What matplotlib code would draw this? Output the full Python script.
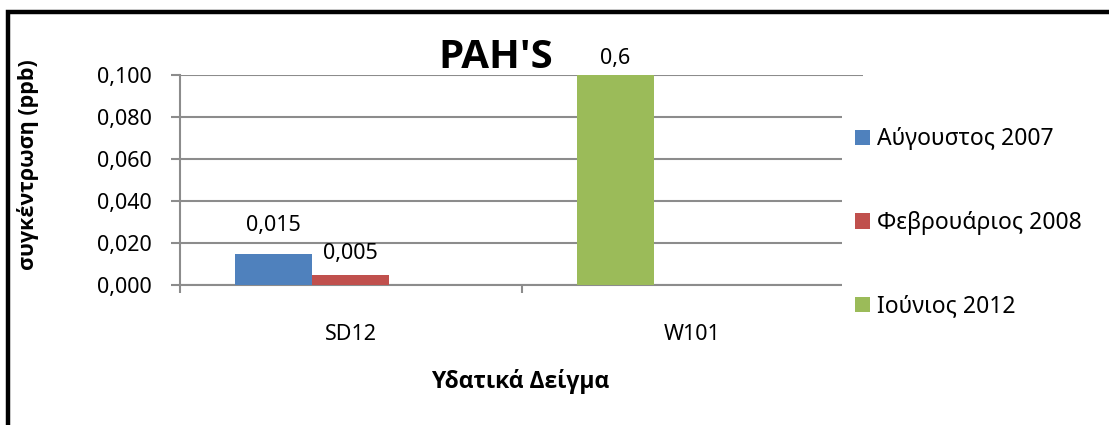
import matplotlib
matplotlib.use("Agg")
import matplotlib.pyplot as plt
from matplotlib.patches import Rectangle
from matplotlib.ticker import FuncFormatter
import numpy as np

plt.rcParams['font.family'] = ['Noto Sans', 'DejaVu Sans']
bold_family = ['Open Sans', 'Liberation Sans', 'DejaVu Sans']

# --- dati ---
categories = ["SD12", "W101"]
series_names = ["Αύγουστος 2007", "Φεβρουάριος 2008", "Ιούνιος 2012"]
aug_2007 = [0.015, np.nan]
feb_2008 = [0.005, np.nan]
jun_2012 = [np.nan, 0.6]

colors = ["#4F81BD", "#C0504D", "#9BBB59"]
slots = [0, 1, 0]            # posizione della barra dentro il gruppo
label_offsets = [16, 11, 8]  # distanza etichetta-barra (pt)

W, H = 1109, 425
fig = plt.figure(figsize=(W / 100, H / 100), dpi=100)
ax = fig.add_axes([180 / W, 1 - 285 / H, (863 - 180) / W, (285 - 75) / H])

bar_w = 0.225
ymax = 0.1
grid_col = "#8C8C8C"

x = np.arange(len(categories))
for vals, name, col, slot, off in zip([aug_2007, feb_2008, jun_2012], series_names,
                                      colors, slots, label_offsets):
    xpos = x - bar_w + slot * bar_w
    ax.bar(xpos, vals, width=bar_w, color=col, label=name, zorder=3)
    for xp, v in zip(xpos, vals):
        if np.isnan(v):
            continue
        txt = f"{v:.3f}" if v < 0.1 else f"{v:g}"
        ax.annotate(txt.replace(".", ","), (xp, min(v, ymax)),
                    xytext=(0, off), textcoords="offset points",
                    ha="center", va="baseline", fontsize=15.5,
                    annotation_clip=False)

ax.set_xlim(-0.5, 1.5)
ax.set_ylim(0, ymax)
ax.set_yticks(np.arange(0, 0.1001, 0.02))
ax.yaxis.set_major_formatter(FuncFormatter(lambda v, p: f"{v:.3f}".replace(".", ",")))
ax.grid(axis="y", color=grid_col, lw=1.5, zorder=0)

ax.set_xticks([-0.5, 0.5, 1.5])
ax.set_xticklabels([])
ax.set_xticks(x, minor=True)
ax.set_xticklabels(categories, minor=True)
ax.tick_params(axis="x", which="major", length=6, width=1.5, color=grid_col)
ax.tick_params(axis="x", which="minor", length=0, pad=28, labelsize=15.5)
ax.tick_params(axis="y", length=6.5, width=1.5, color=grid_col, pad=14, labelsize=15.5)

for s in ["top", "right"]:
    ax.spines[s].set_visible(False)
for s in ["left", "bottom"]:
    ax.spines[s].set_color(grid_col)
    ax.spines[s].set_linewidth(1.5)

fig.text(496 / W, 1 - 57 / H, "PAH'S", fontsize=29, fontweight="bold",
         family=bold_family, ha="center", va="center")
fig.text(28 / W, 1 - 165 / H, "συγκέντρωση (ppb)", fontsize=15.5, fontweight="bold",
         family=bold_family, rotation=90, ha="center", va="center")
fig.text(520 / W, 1 - 381 / H, "Υδατικά Δείγμα", fontsize=16.5, fontweight="bold",
         family=bold_family, ha="center", va="center")

# sfondo bianco della legenda sopra l'area del grafico
fig.add_artist(Rectangle((842 / W, 1 - 330 / H), 260 / W, 230 / H,
                         transform=fig.transFigure, facecolor="white",
                         edgecolor="none", zorder=5))
leg = fig.legend(loc="center left", bbox_to_anchor=(855 / W, 1 - 223 / H),
                 frameon=False, fontsize=16.5, handlelength=0.65, handleheight=0.65,
                 handletextpad=0.3, labelspacing=2.6, borderpad=0, borderaxespad=0)
leg.set_zorder(6)

# cornice nera del grafico
fig.add_artist(Rectangle((7.5 / W, -0.2), 1.5, 1.2 - 11.5 / H,
                         transform=fig.transFigure, facecolor="none",
                         edgecolor="black", lw=3.2, zorder=10))

fig.savefig("out.png", dpi=100)
